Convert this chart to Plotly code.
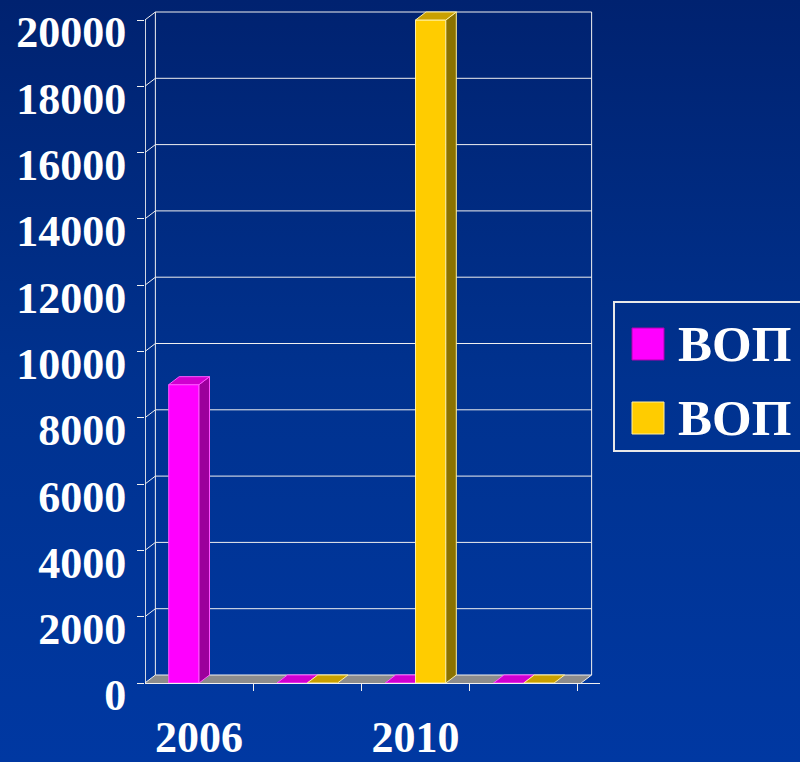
import plotly.graph_objects as go

# ---------------- data ----------------
categories = ["2006", "", "2010", ""]
series_names = ["ВОП", "ВОП"]
magenta_values = [9000, 0, 0, 0]
yellow_values = [None, 0, 20000, 0]
y_tick_values = [0, 2000, 4000, 6000, 8000, 10000, 12000, 14000, 16000, 18000, 20000]
y_tick_labels = ["0", "2000", "4000", "6000", "8000", "10000", "12000", "14000", "16000", "18000", "20000"]

# ---------------- styling / geometry ----------------
W, H = 800, 762
FONT = "Liberation Serif"
PX_C0, SLOT = 199.0, 108.25          # pixel of first category centre, pixels per category
PY_0, PX_PER_UNIT = 683.0, 0.03315   # pixel of value 0, pixels per value unit
DX = 10.5 / SLOT                      # 3-D depth (x, data units)
DY = 8.0 / PX_PER_UNIT                # 3-D depth (y, data units)
PLOT_L, PLOT_R, PLOT_T = 145, 600, 9
X_LO = (PLOT_L - PX_C0) / SLOT
X_HI = (PLOT_R - PX_C0) / SLOT
Y_HI = (PY_0 - PLOT_T) / PX_PER_UNIT
LABEL_DROP_PX = 12                    # y tick labels sit a little below their ticks
FLOOR_R = 3.53
BAR_W = 0.28

series = [
    dict(name=series_names[0], values=magenta_values, offset=-BAR_W,
         front="#FF00FF", side="#9C009C", top="#D000D0", edge="#FF55FF"),
    dict(name=series_names[1], values=yellow_values, offset=0.0,
         front="#FFCC00", side="#8A7200", top="#C9A000", edge="#FFF0A0"),
]

fig = go.Figure()

# background gradient (full-figure subplot)
fig.add_trace(go.Scatter(
    x=[0, 1, 1, 0, 0], y=[0, 0, 1, 1, 0], xaxis="x", yaxis="y",
    mode="lines", line=dict(width=0), fill="toself",
    fillgradient=dict(type="vertical", colorscale=[[0, "#0038A2"], [0.5, "#00328F"], [1, "#002270"]]),
    hoverinfo="skip", showlegend=False))

# floor
fig.add_trace(go.Scatter(
    x=[-0.5, FLOOR_R, FLOOR_R + DX, -0.5 + DX, -0.5],
    y=[0, 0, DY, DY, 0], xaxis="x2", yaxis="y2",
    mode="lines", line=dict(width=0), fill="toself", fillcolor="#8C8C8C",
    hoverinfo="skip", showlegend=False))

# walls: back gridlines, side-wall diagonals, verticals
wx, wy = [], []
for v in y_tick_values:
    wx += [-0.5 + DX, FLOOR_R + DX, None]
    wy += [v + DY, v + DY, None]
    wx += [-0.5, -0.5 + DX, None]
    wy += [v, v + DY, None]
top_v = y_tick_values[-1]
wx += [-0.5 + DX, -0.5 + DX, None, FLOOR_R + DX, FLOOR_R + DX, None, FLOOR_R, FLOOR_R + DX, None]
wy += [DY, top_v + DY, None, DY, top_v + DY, None, 0, DY, None]
fig.add_trace(go.Scatter(x=wx, y=wy, xaxis="x2", yaxis="y2", mode="lines",
                         line=dict(color="#F0F0F0", width=1), hoverinfo="skip", showlegend=False))
fig.add_trace(go.Scatter(x=[-0.5, -0.5], y=[0, top_v], xaxis="x2", yaxis="y2", mode="lines",
                         line=dict(color="#F0F0F0", width=2), hoverinfo="skip", showlegend=False))

# 3-D bars
for s in series:
    fx, fy, sx, sy, tx, ty = [], [], [], [], [], []
    for i, v in enumerate(s["values"]):
        if v is None:
            continue
        x0 = i + s["offset"]
        x1 = x0 + BAR_W
        if v > 0:
            fx += [x0, x1, x1, x0, x0, None]
            fy += [0, 0, v, v, 0, None]
            sx += [x1, x1 + DX, x1 + DX, x1, x1, None]
            sy += [0, DY, v + DY, v, 0, None]
        tx += [x0, x1, x1 + DX, x0 + DX, x0, None]
        ty += [v, v, v + DY, v + DY, v, None]
    for xs, ys, col in ((fx, fy, s["front"]), (sx, sy, s["side"]), (tx, ty, s["top"])):
        if xs:
            fig.add_trace(go.Scatter(x=xs, y=ys, xaxis="x2", yaxis="y2", mode="lines",
                                     line=dict(color=s["edge"], width=1), fill="toself",
                                     fillcolor=col, hoverinfo="skip", showlegend=False))

# custom legend
leg_y_sym = [344, 418]
fig.add_trace(go.Scatter(
    x=[648, 648], y=leg_y_sym, xaxis="x3", yaxis="y3", mode="markers",
    marker=dict(symbol="square", size=32, color=[s["front"] for s in series],
                line=dict(color=["#B000B0", "#FFF0A0"], width=1)),
    hoverinfo="skip", showlegend=False))
fig.add_trace(go.Scatter(
    x=[678, 678], y=[y + 4 for y in leg_y_sym], xaxis="x3", yaxis="y3", mode="text",
    text=[s["name"] for s in series], textposition="middle right", cliponaxis=False,
    textfont=dict(family=FONT, size=51, color="white", weight="bold"),
    hoverinfo="skip", showlegend=False))

# invisible anchor trace for the label-only y axis (its own, slightly lower domain)
fig.add_trace(go.Scatter(x=[None], y=[None], xaxis="x2", yaxis="y4", mode="markers",
                         hoverinfo="skip", showlegend=False))

hidden = dict(visible=False, fixedrange=True, automargin=False)
tick_font = dict(family=FONT, size=44, color="white", weight="bold")
fig.update_layout(
    width=W, height=H,
    margin=dict(l=0, r=0, t=0, b=0, autoexpand=False),
    paper_bgcolor="#002E8A", plot_bgcolor="rgba(0,0,0,0)",
    showlegend=False, hovermode=False,
    xaxis=dict(domain=[0, 1], range=[0, 1], **hidden),
    yaxis=dict(domain=[0, 1], range=[0, 1], **hidden),
    xaxis2=dict(domain=[PLOT_L / W, PLOT_R / W], range=[X_LO, X_HI], anchor="y2",
                showgrid=False, zeroline=False, showline=True, linecolor="#F0F0F0", linewidth=1,
                tickmode="array", tickvals=list(range(len(categories))), ticktext=categories,
                ticks="", ticklabelstandoff=15, automargin=False, ticklabeloverflow="allow",
                tickfont=tick_font,
                minor=dict(tickmode="array", tickvals=[i - 0.5 for i in range(len(categories) + 1)],
                           ticks="outside", ticklen=7, tickcolor="#F0F0F0", tickwidth=1, showgrid=False),
                fixedrange=True),
    yaxis2=dict(domain=[1 - PY_0 / H, 1 - PLOT_T / H], range=[0, Y_HI], anchor="x2",
                showgrid=False, zeroline=False, showline=False,
                tickmode="array", tickvals=y_tick_values, showticklabels=False,
                ticks="outside", ticklen=7, tickcolor="#F0F0F0", tickwidth=1,
                automargin=False, fixedrange=True),
    yaxis4=dict(domain=[1 - (PY_0 + LABEL_DROP_PX) / H, 1 - (PLOT_T + LABEL_DROP_PX) / H],
                range=[0, Y_HI], anchor="x2", side="left",
                showgrid=False, zeroline=False, showline=False,
                tickmode="array", tickvals=y_tick_values, ticktext=y_tick_labels,
                ticks="outside", ticklen=7, tickcolor="rgba(0,0,0,0)",
                ticklabelstandoff=2, automargin=False, ticklabeloverflow="allow",
                tickfont=tick_font, fixedrange=True),
    xaxis3=dict(domain=[615 / W, 1], range=[615, 800], anchor="y3", automargin=False,
                showgrid=False, zeroline=False, showticklabels=False, ticks="",
                showline=True, mirror=True, linecolor="#E8E8E8", linewidth=1.5, fixedrange=True),
    yaxis3=dict(domain=[1 - 450 / H, 1 - 303 / H], range=[450, 303], anchor="x3", automargin=False,
                showgrid=False, zeroline=False, showticklabels=False, ticks="",
                showline=True, mirror=False, linecolor="#E8E8E8", linewidth=1.5, fixedrange=True),
)

fig.write_html("out.html")
